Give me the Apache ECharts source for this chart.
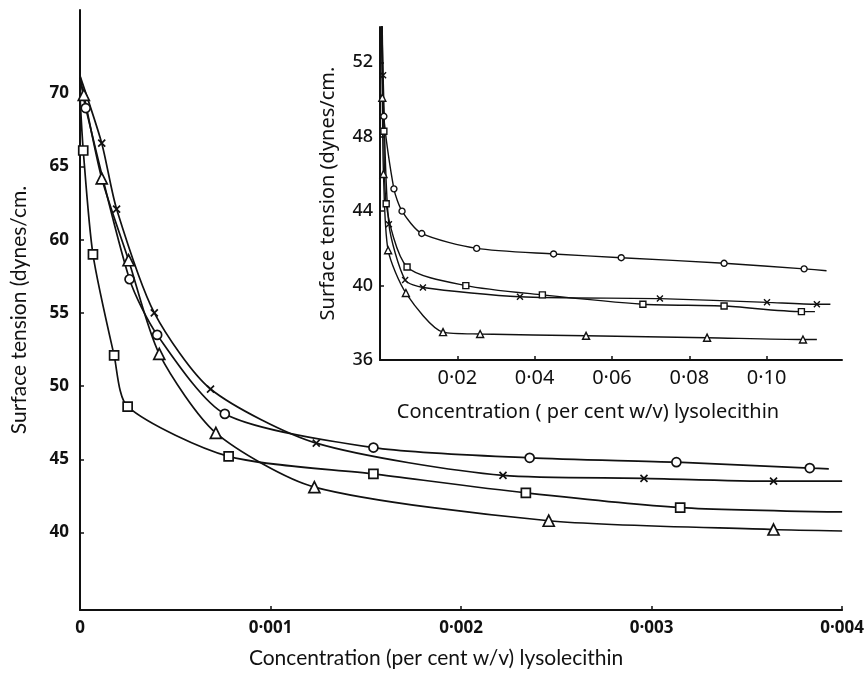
<!DOCTYPE html>
<html>
<head>
<meta charset="utf-8">
<script src="https://cdn.jsdelivr.net/npm/echarts@6/dist/echarts.min.js"></script>
<style>
  html, body { margin: 0; padding: 0; background: #fff; width: 100%; height: 100%; overflow: hidden; }
  #chart { width: 100vw; height: 100vh; }
</style>
</head>
<body>
<div id="chart"></div>
<script>
// main plot: concentration 0 - 0.004 per cent
const mainYTicks = [40, 45, 50, 55, 60, 65, 70];

const mainCircleLead = [[0, 71.2]];
const mainCircle = [[0.00003, 69.0], [0.00026, 57.3], [0.000405, 53.5], [0.00076, 48.1], [0.00154, 45.8], [0.00236, 45.1], [0.00313, 44.8], [0.00383, 44.4]];
const mainCircleTail = [[0.00393, 44.35]];

const mainCrossLead = [[0, 71.2]];
const mainCross = [[0.000114, 66.6], [0.000192, 62.1], [0.00039, 55.0], [0.000685, 49.8], [0.00124, 46.1], [0.00222, 43.9], [0.00296, 43.7], [0.00364, 43.5]];
const mainCrossTail = [[0.004, 43.5]];

const mainTriangleLead = [[0, 71.0]];
const mainTriangle = [[0.00002, 69.9], [0.000114, 64.2], [0.000255, 58.6], [0.000416, 52.2], [0.000713, 46.8], [0.00123, 43.1], [0.00246, 40.8], [0.00364, 40.2]];
const mainTriangleTail = [[0.004, 40.1]];

const mainSquareLead = [[0, 69.8]];
const mainSquare = [[0.000017, 66.1], [0.000068, 59.0], [0.000179, 52.1], [0.00025, 48.6], [0.00078, 45.2], [0.00154, 44.0], [0.00234, 42.7], [0.00315, 41.7]];
const mainSquareTail = [[0.004, 41.4]];

// inset: concentration 0 - 0.12 per cent
const insetXTicks = [0.02, 0.04, 0.06, 0.08, 0.10];
const insetYTicks = [36, 40, 44, 48, 52];

const insetCircleLead = [[0.0005, 55]];
const insetCircle = [[0.001, 49.1], [0.0036, 45.2], [0.0057, 44.0], [0.0108, 42.8], [0.025, 42.0], [0.0449, 41.7], [0.0624, 41.5], [0.089, 41.2], [0.1097, 40.9]];
const insetCircleTail = [[0.1155, 40.8]];

const insetCrossLead = [[0.0004, 55]];
const insetCross = [[0.0008, 51.3], [0.0023, 43.3], [0.0065, 40.3], [0.0111, 39.9], [0.0362, 39.4], [0.0724, 39.3], [0.1001, 39.1], [0.113, 39.0]];
const insetCrossTail = [[0.1165, 39.0]];

const insetSquareLead = [[0.0005, 55]];
const insetSquare = [[0.001, 48.3], [0.0016, 44.4], [0.007, 41.0], [0.0222, 40.0], [0.042, 39.5], [0.068, 39.0], [0.089, 38.9], [0.109, 38.6]];
const insetSquareTail = [[0.1125, 38.6]];

const insetTriangleLead = [[0.0003, 55]];
const insetTriangle = [[0.0006, 50.1], [0.0009, 46.0], [0.0021, 41.9], [0.0067, 39.6], [0.0163, 37.5], [0.0259, 37.4], [0.0533, 37.3], [0.0846, 37.2], [0.1094, 37.1]];
const insetTriangleTail = [[0.113, 37.1]];

const INK = "#111";
const CROSS = "path://M0,0L10,10M10,0L0,10";

function dotLabel(value) {
  if (value === 0) {
    return "0";
  }
  return String(Number(value.toFixed(4))).replace(".", "·");
}

function insetDotLabel(value) {
  return value.toFixed(2).replace(".", "·");
}

function makeSeries(name, lead, marks, tail, symbol, size, axisIndex) {
  const data = [
    ...lead.map((p) => ({ value: p, symbol: "none" })),
    ...marks.map((p) => ({ value: p })),
    ...tail.map((p) => ({ value: p, symbol: "none" })),
  ];
  return {
    name,
    type: "line",
    xAxisIndex: axisIndex,
    yAxisIndex: axisIndex,
    data,
    smooth: 0.25,
    symbol,
    symbolSize: size,
    showAllSymbol: true,
    clip: true,
    silent: true,
    z: 3,
    lineStyle: { color: INK, width: axisIndex === 0 ? 1.7 : 1.4 },
    itemStyle: { color: "#fff", borderColor: INK, borderWidth: axisIndex === 0 ? 1.7 : 1.4 },
  };
}

const chart = echarts.init(document.getElementById("chart"));

const option = {
  animation: false,
  backgroundColor: "#fff",
  grid: [
    { left: 80, right: 15, top: 10, bottom: 59 },
    { left: 380, right: 25, top: 27, bottom: 314 },
  ],
  xAxis: [
    {
      type: "value",
      gridIndex: 0,
      min: 0,
      max: 0.004,
      interval: 0.001,
      splitLine: { show: false },
      axisLine: { lineStyle: { color: INK, width: 2 } },
      axisTick: { inside: true, length: 4, lineStyle: { color: INK, width: 1.5 } },
      axisLabel: {
        margin: 10,
        color: INK,
        fontFamily: "Open Sans",
        fontWeight: 700,
        fontSize: 17,
        formatter: dotLabel,
      },
      name: "Concentration (per cent w/v) lysolecithin",
      nameLocation: "middle",
      nameGap: 38,
      nameTextStyle: { color: INK, fontFamily: "Lato", fontSize: 21, padding: [0, 50, 0, 0] },
    },
    {
      type: "value",
      gridIndex: 1,
      min: 0,
      max: 0.1195,
      splitLine: { show: false },
      axisLine: { lineStyle: { color: INK, width: 2 } },
      axisTick: { inside: true, length: 4, customValues: insetXTicks, lineStyle: { color: INK, width: 1.5 } },
      axisLabel: {
        margin: 8,
        color: INK,
        fontFamily: "Noto Sans",
        fontSize: 20,
        customValues: insetXTicks,
        formatter: insetDotLabel,
      },
      name: "Concentration ( per cent w/v) lysolecithin",
      nameLocation: "middle",
      nameGap: 42,
      nameTextStyle: { color: INK, fontFamily: "Noto Sans", fontSize: 20, padding: [0, 46, 0, 0] },
    },
  ],
  yAxis: [
    {
      type: "value",
      gridIndex: 0,
      min: 34.7,
      max: 75.7,
      splitLine: { show: false },
      axisLine: { lineStyle: { color: INK, width: 2 } },
      axisTick: { inside: true, length: 4, customValues: mainYTicks, lineStyle: { color: INK, width: 1.5 } },
      axisLabel: {
        margin: 11,
        color: INK,
        fontFamily: "Open Sans",
        fontWeight: 700,
        fontSize: 17,
        customValues: mainYTicks,
      },
      name: "Surface tension (dynes/cm.",
      nameLocation: "middle",
      nameGap: 50,
      nameTextStyle: { color: INK, fontFamily: "Lato", fontSize: 21 },
    },
    {
      type: "value",
      gridIndex: 1,
      min: 36,
      max: 53.9,
      splitLine: { show: false },
      axisLine: { lineStyle: { color: INK, width: 2 } },
      axisTick: { inside: true, length: 4, customValues: insetYTicks, lineStyle: { color: INK, width: 1.5 } },
      axisLabel: {
        margin: 7,
        color: INK,
        fontFamily: "Noto Sans",
        fontWeight: 500,
        fontSize: 18,
        customValues: insetYTicks,
      },
      name: "Surface tension (dynes/cm.",
      nameLocation: "middle",
      nameGap: 42,
      nameTextStyle: { color: INK, fontFamily: "Noto Sans", fontSize: 20 },
    },
  ],
  series: [
    makeSeries("main-circle", mainCircleLead, mainCircle, mainCircleTail, "circle", 9, 0),
    makeSeries("main-cross", mainCrossLead, mainCross, mainCrossTail, CROSS, 7, 0),
    makeSeries("main-triangle", mainTriangleLead, mainTriangle, mainTriangleTail, "triangle", 11, 0),
    makeSeries("main-square", mainSquareLead, mainSquare, mainSquareTail, "rect", 9, 0),
    makeSeries("inset-circle", insetCircleLead, insetCircle, insetCircleTail, "circle", 6, 1),
    makeSeries("inset-cross", insetCrossLead, insetCross, insetCrossTail, CROSS, 6, 1),
    makeSeries("inset-triangle", insetTriangleLead, insetTriangle, insetTriangleTail, "triangle", 7, 1),
    makeSeries("inset-square", insetSquareLead, insetSquare, insetSquareTail, "rect", 6, 1),
  ],
};

chart.setOption(option);
</script>
</body>
</html>
